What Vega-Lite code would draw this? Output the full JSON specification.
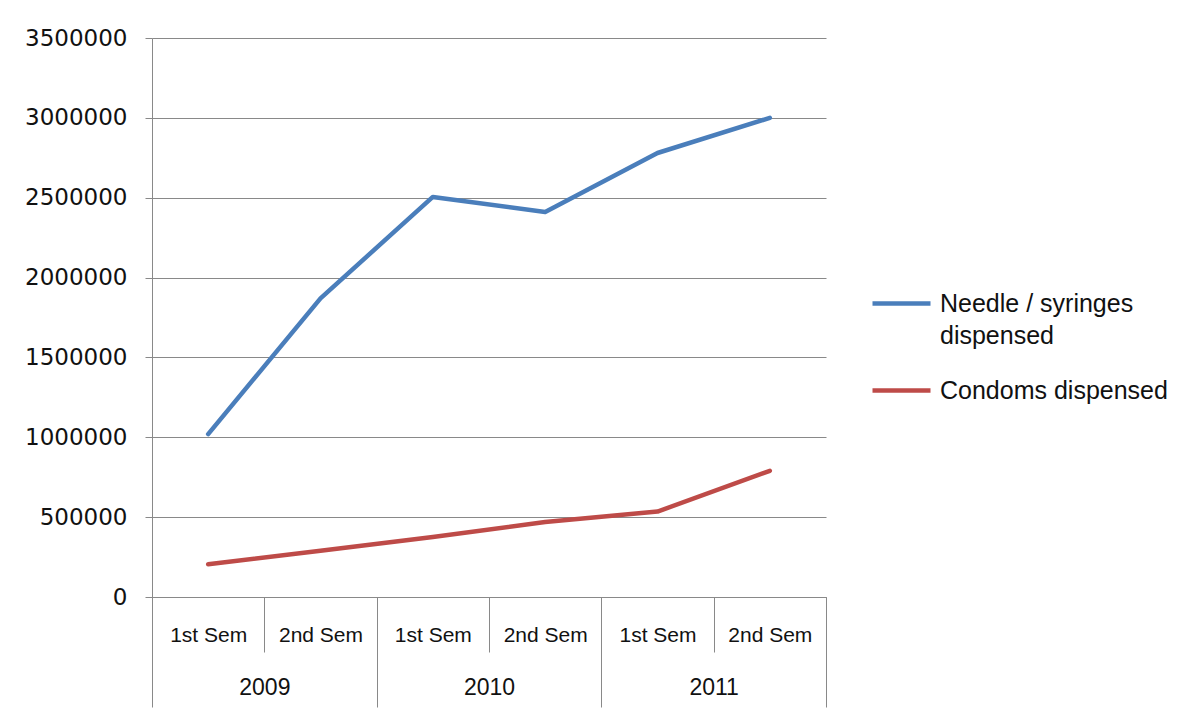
{
  "$schema": "https://vega.github.io/schema/vega-lite/v6.json",
  "width": 674,
  "height": 559,
  "autosize": "none",
  "padding": {"left": 152, "top": 38, "right": 374, "bottom": 128},
  "background": "white",
  "data": {
    "values": [
      {"series": "Needle / syringes dispensed", "year": "2009", "semester": "1st Sem", "period": "2009 1st Sem", "value": 1020000},
      {"series": "Needle / syringes dispensed", "year": "2009", "semester": "2nd Sem", "period": "2009 2nd Sem", "value": 1870000},
      {"series": "Needle / syringes dispensed", "year": "2010", "semester": "1st Sem", "period": "2010 1st Sem", "value": 2505000},
      {"series": "Needle / syringes dispensed", "year": "2010", "semester": "2nd Sem", "period": "2010 2nd Sem", "value": 2410000},
      {"series": "Needle / syringes dispensed", "year": "2011", "semester": "1st Sem", "period": "2011 1st Sem", "value": 2780000},
      {"series": "Needle / syringes dispensed", "year": "2011", "semester": "2nd Sem", "period": "2011 2nd Sem", "value": 3000000},
      {"series": "Condoms dispensed", "year": "2009", "semester": "1st Sem", "period": "2009 1st Sem", "value": 205000},
      {"series": "Condoms dispensed", "year": "2009", "semester": "2nd Sem", "period": "2009 2nd Sem", "value": 290000},
      {"series": "Condoms dispensed", "year": "2010", "semester": "1st Sem", "period": "2010 1st Sem", "value": 375000},
      {"series": "Condoms dispensed", "year": "2010", "semester": "2nd Sem", "period": "2010 2nd Sem", "value": 470000},
      {"series": "Condoms dispensed", "year": "2011", "semester": "1st Sem", "period": "2011 1st Sem", "value": 535000},
      {"series": "Condoms dispensed", "year": "2011", "semester": "2nd Sem", "period": "2011 2nd Sem", "value": 790000}
    ]
  },
  "layer": [
    {
      "mark": {"type": "line", "strokeWidth": 4.5, "strokeCap": "round", "strokeJoin": "round"},
      "encoding": {
        "x": {
          "field": "period",
          "type": "nominal",
          "sort": null,
          "bandPosition": 0.5,
          "scale": {
            "type": "band",
            "paddingInner": 0,
            "paddingOuter": 0,
            "domain": ["2009 1st Sem", "2009 2nd Sem", "2010 1st Sem", "2010 2nd Sem", "2011 1st Sem", "2011 2nd Sem"]
          },
          "axis": {
            "orient": "bottom",
            "title": null,
            "tickBand": "extent",
            "tickSize": 55,
            "tickColor": "#898989",
            "domainColor": "#898989",
            "labelExpr": "substring(datum.label, 5)",
            "labelAngle": 0,
            "labelBaseline": "middle",
            "labelPadding": -17,
            "labelFont": "Liberation Sans",
            "labelFontSize": 21,
            "labelColor": "#111111",
            "labelOverlap": false,
            "grid": false
          }
        },
        "y": {
          "field": "value",
          "type": "quantitative",
          "scale": {"domain": [0, 3500000], "nice": false},
          "axis": {
            "title": null,
            "values": [0, 500000, 1000000, 1500000, 2000000, 2500000, 3000000, 3500000],
            "format": "d",
            "grid": true,
            "gridColor": "#898989",
            "gridOpacity": 1,
            "tickSize": 7,
            "tickColor": "#898989",
            "domainColor": "#898989",
            "labelPadding": 18,
            "labelFont": "DejaVu Sans",
            "labelFontSize": 23,
            "labelColor": "#111111"
          }
        },
        "color": {
          "field": "series",
          "type": "nominal",
          "scale": {
            "domain": ["Needle / syringes dispensed", "Condoms dispensed"],
            "range": ["#4A7EBB", "#BE4B48"]
          },
          "legend": {
            "title": null,
            "orient": "none",
            "legendX": 718,
            "legendY": 234,
            "symbolType": "stroke",
            "symbolSize": 3364,
            "symbolStrokeWidth": 4.5,
            "labelFont": "Liberation Sans",
            "labelFontSize": 25,
            "labelColor": "#111111",
            "labelOffset": 7,
            "labelLimit": 0,
            "rowPadding": 10,
            "labelExpr": "datum.label == 'Needle / syringes dispensed' ? ['Needle / syringes', 'dispensed'] : datum.label",
            "encode": {
              "labels": {
                "update": {
                  "lineHeight": {"value": 32}
                }
              }
            }
          }
        }
      }
    },
    {
      "mark": {"type": "point", "opacity": 0},
      "encoding": {
        "x": {
          "field": "year",
          "type": "nominal",
          "scale": {"type": "band", "paddingInner": 0, "paddingOuter": 0},
          "axis": {
            "orient": "bottom",
            "title": null,
            "tickBand": "extent",
            "tickSize": 110,
            "tickColor": "#898989",
            "domain": false,
            "labelAngle": 0,
            "labelBaseline": "middle",
            "labelPadding": -20,
            "labelFont": "Liberation Sans",
            "labelFontSize": 23,
            "labelColor": "#111111",
            "grid": false
          }
        },
        "y": {"field": "value", "type": "quantitative"}
      }
    }
  ],
  "resolve": {"scale": {"x": "independent"}, "axis": {"x": "independent"}},
  "config": {"view": {"stroke": null}}
}
